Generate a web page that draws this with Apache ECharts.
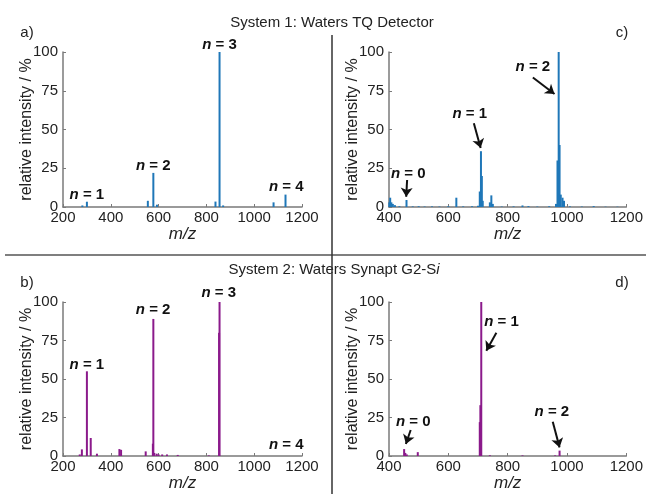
<!DOCTYPE html>
<html>
<head>
<meta charset="utf-8">
<script src="https://cdn.jsdelivr.net/npm/echarts@6/dist/echarts.min.js"></script>
<style>
html,body{margin:0;padding:0;background:#fff;}
#chart{width:646px;height:494px;}
</style>
</head>
<body>
<div id="chart"></div>
<script>
// ---- Data ----
const titles = ['System 1: Waters TQ Detector', 'System 2: Waters Synapt G2-S', 'i'];
const panelLabels = ['a)', 'c)', 'b)', 'd)'];
const yTicks = [0, 25, 50, 75, 100];
const xTicksAB = [200, 400, 600, 800, 1000, 1200];
const xTicksCD = [400, 600, 800, 1000, 1200];

// Panel a (System 1, wide range)
const mzA  = [281, 300, 555, 578, 593, 838, 855, 870, 1081, 1131];
const intA = [1, 3.4, 4, 22, 1.5, 3.5, 100, 1, 3, 8];
// Panel c (System 1, zoom)
const mzC  = [401, 404, 408, 413, 420, 435, 459, 480, 500, 520, 545, 570, 600, 627, 650, 680, 700, 706, 710, 713, 716, 740, 745, 750, 780, 820, 850, 870, 900, 940, 963, 968, 972, 975, 979, 985, 990, 1010, 1050, 1090, 1130, 1170];
const intC = [3, 6, 3, 2, 1.2, 0.5, 4.5, 0.4, 0.5, 0.3, 0.4, 0.3, 0.5, 6, 0.4, 0.5, 0.8, 10, 36, 20, 4, 3, 7.5, 2, 0.3, 0.4, 1, 0.6, 0.3, 0.5, 2, 30, 100, 40, 8, 6, 4, 0.4, 0.3, 0.6, 0.2, 0.2];
// Panel b (System 2, wide range)
const mzB  = [270, 279, 300, 316, 342, 436, 443, 546, 576, 578, 582, 592, 600, 615, 635, 680, 810, 853, 855];
const intB = [1, 4.3, 55, 11.7, 1.5, 4.5, 4, 3, 8, 89, 2, 1.5, 1, 1, 1, 0.7, 0.4, 80, 100];
// Panel d (System 2, zoom)
const mzD  = [451, 455, 460, 497, 706, 708, 711, 740, 850, 960, 975];
const intD = [4.5, 2, 1, 2.5, 22, 33, 100, 0.5, 0.4, 0.4, 3.5];

// Annotations: [label n, m/z, intensity, extra offset above top in px]
const annA = [[1, 300, 7.7, 0], [2, 578, 26.6, 0], [3, 855, 100, 7], [4, 1134, 12.7, 0]];
const annC = [[0, 465, 21.7, 0], [1, 672, 60.4, 0], [2, 885, 90.5, 0]];
const annB = [[1, 300, 59, 0], [2, 577, 95.2, 0], [3, 852, 100, 9], [4, 1134, 7.1, 0]];
const annD = [[0, 482, 22.3, 0], [1, 779, 87.2, 0], [2, 949, 28.8, 0]];
// Arrows: [fromMz, fromInt, toMz, toInt]
const arrC = [[461, 17.4, 458, 6.6], [686, 54, 709, 38], [885, 83.6, 958, 72.9]];
const arrD = [[473, 16.9, 457, 7.8], [762, 80, 728, 68.4], [952, 22.3, 975, 5.6]];

// ---- Build ----
const BLUE = '#1f77b8';
const PURPLE = '#8b1a8b';
const FONT = 'Liberation Sans, Arial, sans-serif';
const AXIS_COLOR = '#7a7a7a';

const grids = [
  {left: 63, top: 52, width: 239, height: 155},
  {left: 389, top: 52, width: 238, height: 155},
  {left: 63, top: 302, width: 239, height: 154},
  {left: 389, top: 302, width: 238, height: 154}
];

function xAxisFor(i, min) {
  return {
    type: 'value', gridIndex: i, min: min, max: 1200, interval: 200,
    axisLine: {show: true, lineStyle: {color: AXIS_COLOR, width: 1.5}},
    axisTick: {show: true, inside: true, length: 3, lineStyle: {color: AXIS_COLOR}},
    splitLine: {show: false},
    axisLabel: {color: '#222', fontSize: 15, fontFamily: FONT, margin: 3, formatter: v => String(v)},
    name: 'm/z', nameLocation: 'middle', nameGap: 19, nameMoveOverlap: false,
    nameTextStyle: {color: '#222', fontSize: 17, fontStyle: 'italic', fontFamily: FONT}
  };
}
function yAxisFor(i) {
  return {
    type: 'value', gridIndex: i, min: 0, max: 100, interval: 25,
    axisLine: {show: true, lineStyle: {color: AXIS_COLOR, width: 1.5}},
    axisTick: {show: true, inside: true, length: 3, lineStyle: {color: AXIS_COLOR}},
    splitLine: {show: false},
    axisLabel: {color: '#222', fontSize: 15, fontFamily: FONT, margin: 5, formatter: v => String(v)},
    name: 'relative intensity / %', nameLocation: 'middle', nameGap: 28, nameMoveOverlap: false,
    nameTextStyle: {color: '#222', fontSize: 16, fontFamily: FONT}
  };
}

function pairs(xs, ys) { return xs.map((x, k) => [x, ys[k]]); }

function annPoints(ann) {
  return ann.map(a => ({
    coord: [a[1], a[2]],
    label: {formatter: '{i|n}{b| = ' + a[0] + '}', offset: [0, -a[3]]}
  }));
}
function arrowLines(arr) {
  return arr.map(a => [{coord: [a[0], a[1]]}, {coord: [a[2], a[3]]}]);
}

const richStyle = {
  i: {fontStyle: 'italic', fontWeight: 'bold', fontSize: 15, fontFamily: FONT, color: '#111'},
  b: {fontWeight: 'bold', fontSize: 15, fontFamily: FONT, color: '#111'}
};

function seriesFor(i, data, color, ann, arr) {
  const s = {
    type: 'bar', xAxisIndex: i, yAxisIndex: i,
    data: data, barWidth: 2, barGap: '-100%',
    itemStyle: {color: color},
    silent: true, animation: false,
    markPoint: {
      symbol: 'rect', symbolSize: 1,
      itemStyle: {color: 'rgba(0,0,0,0)'},
      label: {show: true, position: 'inside', rich: richStyle, color: '#111'},
      data: annPoints(ann),
      animation: false
    }
  };
  if (arr) {
    s.markLine = {
      symbol: ['none', 'arrow'], symbolSize: 9,
      lineStyle: {color: '#111', width: 2, type: 'solid'},
      itemStyle: {color: '#111'},
      label: {show: false},
      silent: true, animation: false,
      data: arrowLines(arr)
    };
  }
  return s;
}

const chart = echarts.init(document.getElementById('chart'), null, {renderer: 'canvas'});
chart.setOption({
  animation: false,
  backgroundColor: '#fff',
  grid: grids,
  xAxis: [xAxisFor(0, 200), xAxisFor(1, 400), xAxisFor(2, 200), xAxisFor(3, 400)],
  yAxis: [yAxisFor(0), yAxisFor(1), yAxisFor(2), yAxisFor(3)],
  series: [
    seriesFor(0, pairs(mzA, intA), BLUE, annA, null),
    seriesFor(1, pairs(mzC, intC), BLUE, annC, arrC),
    seriesFor(2, pairs(mzB, intB), PURPLE, annB, null),
    seriesFor(3, pairs(mzD, intD), PURPLE, annD, arrD)
  ],
  graphic: [
    {type: 'text', style: {x: 332, y: 23, text: titles[0], align: 'center', verticalAlign: 'middle', font: '15px ' + FONT, fill: '#222'}},
    {type: 'text', style: {x: 334, y: 270, text: '{r|' + titles[1] + '}{i|' + titles[2] + '}', align: 'center', verticalAlign: 'middle',
      rich: {r: {font: '15px ' + FONT, fill: '#222'}, i: {font: 'italic 15px ' + FONT, fill: '#222'}}}},
    {type: 'text', style: {x: 27, y: 33, text: panelLabels[0], align: 'center', verticalAlign: 'middle', font: '15px ' + FONT, fill: '#222'}},
    {type: 'text', style: {x: 622, y: 33, text: panelLabels[1], align: 'center', verticalAlign: 'middle', font: '15px ' + FONT, fill: '#222'}},
    {type: 'text', style: {x: 27, y: 283, text: panelLabels[2], align: 'center', verticalAlign: 'middle', font: '15px ' + FONT, fill: '#222'}},
    {type: 'text', style: {x: 622, y: 283, text: panelLabels[3], align: 'center', verticalAlign: 'middle', font: '15px ' + FONT, fill: '#222'}},
    {type: 'line', shape: {x1: 5, y1: 255, x2: 646, y2: 255}, style: {stroke: '#555', lineWidth: 1.5}},
    {type: 'line', shape: {x1: 332, y1: 35, x2: 332, y2: 494}, style: {stroke: '#333', lineWidth: 1.5}}
  ]
});
</script>
</body>
</html>
